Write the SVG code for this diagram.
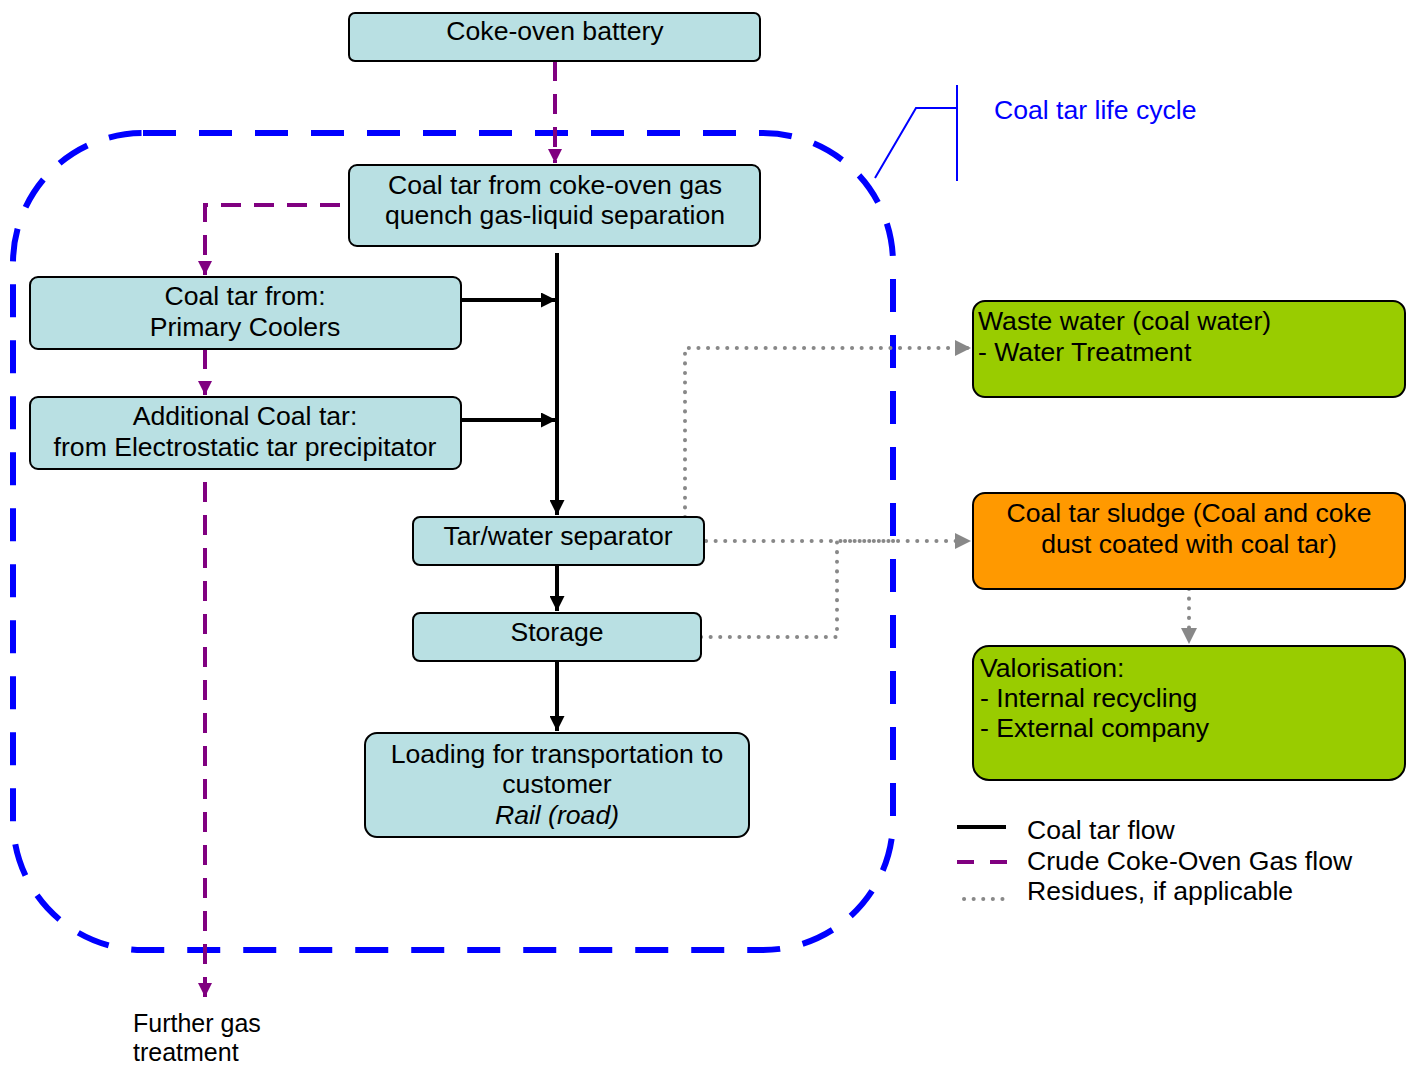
<svg xmlns="http://www.w3.org/2000/svg" width="1410" height="1066" viewBox="0 0 1410 1066">
  <style>
    text { font-family: "Liberation Sans", Arial, sans-serif; font-size: 26.6px; fill: #000; }
    .box { fill: #b9e0e3; stroke: #000; stroke-width: 2; }
    .green { fill: #99cc00; stroke: #000; stroke-width: 2; }
    .orange { fill: #ff9900; stroke: #000; stroke-width: 2; }
    .tar { fill: none; stroke: #000; stroke-width: 4; }
    .gas { fill: none; stroke: #800080; stroke-width: 4; stroke-dasharray: 20 13; }
    .res { fill: none; stroke: #888; stroke-width: 4; stroke-dasharray: 0.1 9.5; stroke-linecap: round; }
    .mid { text-anchor: middle; }
    .foot { font-size: 25px; }
  </style>
  <defs>
    <marker id="aGas" viewBox="0 0 10 10" refX="10" refY="5" markerWidth="14" markerHeight="14" orient="auto" markerUnits="userSpaceOnUse">
      <path d="M0,0 L10,5 L0,10 z" fill="#800080"/>
    </marker>
    <marker id="aRes" viewBox="0 0 10 10" refX="10" refY="5" markerWidth="16" markerHeight="16" orient="auto" markerUnits="userSpaceOnUse">
      <path d="M0,0 L10,5 L0,10 z" fill="#888"/>
    </marker>
    <marker id="aBlk" viewBox="0 0 10 10" refX="10" refY="5" markerWidth="15" markerHeight="15" orient="auto" markerUnits="userSpaceOnUse">
      <path d="M0,0 L10,5 L0,10 z" fill="#000"/>
    </marker>
  </defs>

  <!-- life-cycle boundary -->
  <g id="lifecycle">
    <rect x="13" y="133" width="880" height="817" rx="130" ry="130" fill="none" stroke="#0000ff" stroke-width="6" stroke-dasharray="33 23"/>
    <polyline points="875,178 916,108 957,108" fill="none" stroke="#0000ff" stroke-width="2"/>
    <line x1="957" y1="85" x2="957" y2="181" stroke="#0000ff" stroke-width="2"/>
    <text x="994" y="119" style="fill:#0000ff">Coal tar life cycle</text>
  </g>

  <!-- connectors -->
  <g id="connectors">
    <path class="gas" d="M555,61 V163" marker-end="url(#aGas)"/>
    <path class="gas" d="M340,205 H205 V275" marker-end="url(#aGas)"/>
    <path class="gas" d="M205,349 V395" marker-end="url(#aGas)"/>
    <path class="gas" d="M205,469 V997" marker-end="url(#aGas)" stroke-dashoffset="20"/>

    <path class="tar" d="M557,253 V515" marker-end="url(#aBlk)"/>
    <path class="tar" d="M461,300 H556" marker-end="url(#aBlk)"/>
    <path class="tar" d="M461,420 H556" marker-end="url(#aBlk)"/>
    <path class="tar" d="M557,565 V611" marker-end="url(#aBlk)"/>
    <path class="tar" d="M557,661 V731" marker-end="url(#aBlk)"/>

    <path class="res" d="M685,517 V348 H971" marker-end="url(#aRes)"/>
    <path class="res" d="M706,541 H971" marker-end="url(#aRes)"/>
    <path class="res" d="M701,637 H837 V541 H900"/>
    <path class="res" d="M1189,589 V644" marker-end="url(#aRes)"/>
  </g>

  <g id="coke-oven-battery">
    <rect class="box" x="349" y="13" width="411" height="48" rx="6"/>
    <text class="mid" x="555" y="40">Coke-oven battery</text>
  </g>

  <g id="quench-separation">
    <rect class="box" x="349" y="165" width="411" height="81" rx="8"/>
    <text class="mid" x="555" y="194">Coal tar from coke-oven gas</text>
    <text class="mid" x="555" y="224">quench gas-liquid separation</text>
  </g>

  <g id="primary-coolers">
    <rect class="box" x="30" y="277" width="431" height="72" rx="8"/>
    <text class="mid" x="245" y="305">Coal tar from:</text>
    <text class="mid" x="245" y="336">Primary Coolers</text>
  </g>

  <g id="electrostatic-precipitator">
    <rect class="box" x="30" y="397" width="431" height="72" rx="8"/>
    <text class="mid" x="245" y="425">Additional Coal tar:</text>
    <text class="mid" x="245" y="456">from Electrostatic tar precipitator</text>
  </g>

  <g id="tar-water-separator">
    <rect class="box" x="413" y="517" width="291" height="48" rx="7"/>
    <text class="mid" x="558" y="545">Tar/water separator</text>
  </g>

  <g id="storage">
    <rect class="box" x="413" y="613" width="288" height="48" rx="7"/>
    <text class="mid" x="557" y="641">Storage</text>
  </g>

  <g id="loading">
    <rect class="box" x="365" y="733" width="384" height="104" rx="12"/>
    <text class="mid" x="557" y="763">Loading for transportation to</text>
    <text class="mid" x="557" y="793">customer</text>
    <text class="mid" x="557" y="824" font-style="italic">Rail (road)</text>
  </g>

  <g id="waste-water">
    <rect class="green" x="973" y="301" width="432" height="96" rx="12"/>
    <text x="978" y="330">Waste water (coal water)</text>
    <text x="978" y="361">- Water Treatment</text>
  </g>

  <g id="tar-sludge">
    <rect class="orange" x="973" y="493" width="432" height="96" rx="12"/>
    <text class="mid" x="1189" y="522">Coal tar sludge (Coal and coke</text>
    <text class="mid" x="1189" y="553">dust coated with coal tar)</text>
  </g>

  <g id="valorisation">
    <rect class="green" x="973" y="646" width="432" height="134" rx="16"/>
    <text x="980" y="677">Valorisation:</text>
    <text x="980" y="707">- Internal recycling</text>
    <text x="980" y="737">- External company</text>
  </g>

  <g id="further-gas-treatment">
    <text class="foot" x="133" y="1032">Further gas</text>
    <text class="foot" x="133" y="1061">treatment</text>
  </g>

  <g id="legend">
    <line class="tar" x1="957" y1="827" x2="1006" y2="827"/>
    <line x1="957" y1="862" x2="1008" y2="862" stroke="#800080" stroke-width="4" stroke-dasharray="17 16"/>
    <line class="res" x1="964" y1="899" x2="1012" y2="899"/>
    <text x="1027" y="839">Coal tar flow</text>
    <text x="1027" y="870">Crude Coke-Oven Gas flow</text>
    <text x="1027" y="900">Residues, if applicable</text>
  </g>
</svg>
